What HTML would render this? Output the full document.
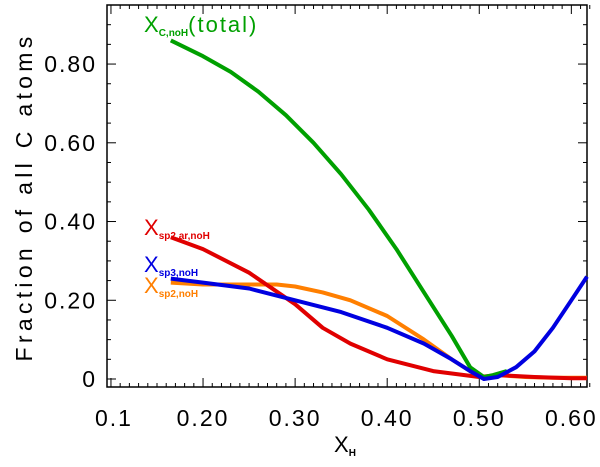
<!DOCTYPE html>
<html><head><meta charset="utf-8"><style>
body{margin:0;background:#fff}
svg text{font-family:"Liberation Sans",sans-serif}
</style></head><body>
<svg id="c" width="600" height="462" xmlns="http://www.w3.org/2000/svg"></svg>
<script>
const xTicks=[0.1,0.2,0.3,0.4,0.5,0.6];
const xTickLabels=["0.1","0.20","0.30","0.40","0.50","0.60"];
const yTicks=[0,0.2,0.4,0.6,0.8];
const yTickLabels=["0","0.20","0.40","0.60","0.80"];
const greenX=[0.165,0.2,0.23,0.26,0.29,0.32,0.35,0.38,0.41,0.44,0.47,0.49,0.505,0.515,0.53];
const greenY=[0.86,0.82,0.78,0.73,0.67,0.60,0.52,0.43,0.33,0.22,0.11,0.03,0.005,0.01,0.02];
const blueX=[0.165,0.2,0.25,0.3,0.35,0.4,0.44,0.47,0.49,0.505,0.52,0.54,0.56,0.58,0.6,0.617];
const blueY=[0.255,0.245,0.23,0.2,0.17,0.13,0.09,0.05,0.02,0.0,0.005,0.03,0.07,0.13,0.2,0.26];
const redX=[0.165,0.2,0.25,0.3,0.33,0.36,0.4,0.45,0.5,0.52,0.56,0.6,0.617];
const redY=[0.36,0.33,0.27,0.19,0.13,0.09,0.05,0.02,0.005,0.01,0.005,0.002,0.002];
const orangeX=[0.165,0.2,0.25,0.28,0.3,0.33,0.36,0.4,0.44,0.47,0.49,0.505,0.52,0.55,0.58,0.617];
const orangeY=[0.245,0.24,0.24,0.24,0.235,0.22,0.2,0.16,0.1,0.05,0.02,0.005,0.01,0.005,0.003,0.003];
const L=107,R=587,T=5,B=387;
const X0=0.0957,X1=0.617,Y0=-0.0203,Y1=0.95;
const sx=v=>L+(v-X0)/(X1-X0)*(R-L);
const sy=v=>B-(v-Y0)/(Y1-Y0)*(B-T);
const svg=document.getElementById('c');
const NS="http://www.w3.org/2000/svg";
function mk(t,a,p){const e=document.createElementNS(NS,t);for(const k in a)e.setAttribute(k,a[k]);(p||svg).appendChild(e);return e;}
let fr=mk('rect',{x:L,y:T,width:R-L,height:B-T,fill:'none',stroke:'#000','stroke-width':1.5});


for(let v=0.1;v<=0.6201;v+=0.01){const x=sx(v);const maj=Math.abs(v*10-Math.round(v*10))<1e-6;const len=maj?9:4;
mk('line',{x1:x,x2:x,y1:B,y2:B-len,stroke:'#000','stroke-width':1});mk('line',{x1:x,x2:x,y1:T,y2:T+len,stroke:'#000','stroke-width':1});}
for(let v=0;v<=0.95;v+=0.05){const y=sy(v);const maj=Math.abs(v*5-Math.round(v*5))<1e-6;const len=maj?9:4;
mk('line',{x1:L,x2:L+len,y1:y,y2:y,stroke:'#000','stroke-width':1});mk('line',{x1:R,x2:R-len,y1:y,y2:y,stroke:'#000','stroke-width':1});}
xTicks.forEach((v,i)=>{const t=mk('text',{x:sx(v)+(i==0?3:0),y:426,'text-anchor':'middle','font-size':23,'letter-spacing':2});t.textContent=xTickLabels[i];

});
yTicks.forEach((v,i)=>{const t=mk('text',{x:97,y:sy(v)+8,'text-anchor':'end','font-size':23,'letter-spacing':2});t.textContent=yTickLabels[i];

});
let xt=mk('text',{x:334,y:452,'font-size':22});xt.innerHTML='X<tspan font-size="10" font-weight="bold" dy="4">H</tspan>';


let yt=mk('text',{x:0,y:0,'font-size':23,'letter-spacing':4.3,'text-anchor':'middle',transform:'translate(32,197) rotate(-90)'});yt.textContent='Fraction of all C atoms';


function line(xs,ys,col,name){const d=xs.map((v,i)=>(i?'L':'M')+sx(v).toFixed(1)+','+sy(ys[i]).toFixed(1)).join('');
const p=mk('path',{d:d,fill:'none',stroke:col,'stroke-width':4,'stroke-linejoin':'round'});

}
line(orangeX,orangeY,'#ff7f00','series-sp2-noh');
line(redX,redY,'#e00000','series-sp2-ar-noh');
line(greenX,greenY,'#00a000','series-total');
line(blueX,blueY,'#0000e0','series-sp3-noh');
function lab(y,col,sub,tail,name){const t=mk('text',{x:144,y:y,'font-size':22,fill:col});
t.innerHTML='X<tspan font-size="10" font-weight="bold" dy="4">'+sub+'</tspan>'+(tail?'<tspan dy="-4" letter-spacing="2">'+tail+'</tspan>':'');

}
lab(32,'#00a000','C,noH','(total)','label-total');
lab(235,'#e00000','sp2,ar,noH','','label-sp2-ar');
lab(272,'#0000e0','sp3,noH','','label-sp3');
lab(293,'#ff7f00','sp2,noH','','label-sp2');
</script>
</body></html>
